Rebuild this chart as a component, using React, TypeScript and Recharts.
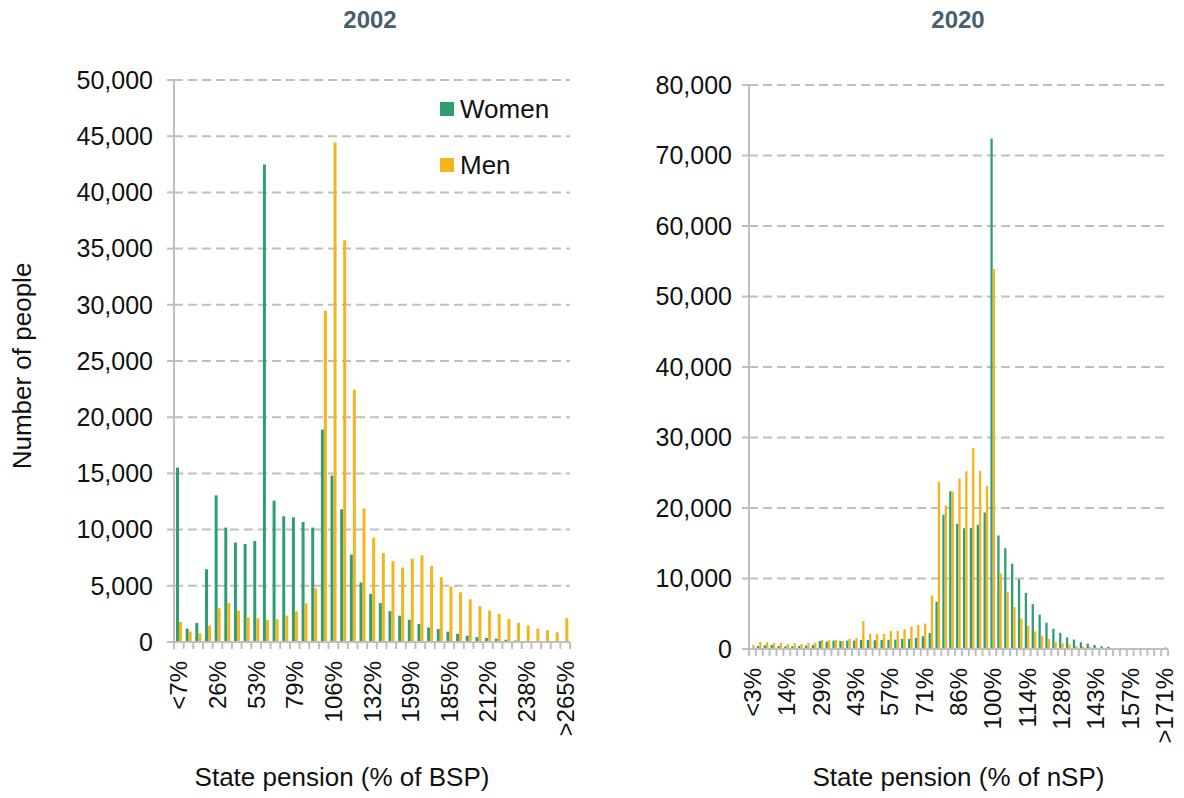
import React from "react";
import { BarChart, Bar, XAxis, YAxis, CartesianGrid, Legend } from "recharts";

// 2002: bands of 6.62% of the basic state pension
const bspBands = [
  "<7%", "7%", "13%", "20%", "26%", "33%", "40%", "46%", "53%", "60%",
  "66%", "73%", "79%", "86%", "93%", "99%", "106%", "113%", "119%", "126%",
  "132%", "139%", "146%", "152%", "159%", "165%", "172%", "179%", "185%", "192%",
  "199%", "205%", "212%", "218%", "225%", "232%", "238%", "245%", "252%", "258%",
  ">265%",
];
const women2002 = [
  15520, 1190, 1690, 6470, 13050, 10180, 8850, 8720, 8990, 42480,
  12580, 11190, 11100, 10680, 10180, 18900, 14810, 11810, 7780, 5290,
  4280, 3460, 2740, 2340, 1980, 1610, 1290, 1150, 920, 730,
  560, 430, 360, 300, 200, 130, 80, 50, 30, 20,
  10,
];
const men2002 = [
  1780, 925, 770, 1460, 3000, 3470, 2790, 2200, 2110, 1960,
  2020, 2350, 2730, 3440, 4780, 29470, 44440, 35740, 22450, 11870,
  9290, 7910, 7190, 6620, 7420, 7710, 6760, 5770, 4940, 4420,
  3790, 3200, 2800, 2500, 2040, 1710, 1480, 1190, 1050, 860,
  2110,
];
const ticks2002 = [0, 5000, 10000, 15000, 20000, 25000, 30000, 35000, 40000, 45000, 50000];

// 2020: bands of ~2.86% of the new state pension
const nspBands = [
  "<3%", "3%", "6%", "9%", "11%", "14%", "17%", "20%", "23%", "26%",
  "29%", "31%", "34%", "37%", "40%", "43%", "46%", "49%", "51%", "54%",
  "57%", "60%", "63%", "66%", "69%", "71%", "74%", "77%", "80%", "83%",
  "86%", "89%", "91%", "94%", "97%", "100%", "103%", "106%", "109%", "111%",
  "114%", "117%", "120%", "123%", "126%", "128%", "131%", "134%", "137%", "140%",
  "143%", "146%", "148%", "151%", "154%", "157%", "160%", "163%", "166%", "168%",
  ">171%",
];
const women2020 = [
  100, 430, 520, 570, 430, 380, 380, 430, 480, 570,
  1140, 1050, 1190, 1140, 1190, 1190, 1290, 1290, 1240, 1290,
  1290, 1330, 1430, 1430, 1570, 1810, 2280, 6700, 19030, 22370,
  17750, 17130, 17180, 17610, 19360, 72420, 16100, 14300, 12100, 9900,
  7940, 6360, 4880, 3730, 2870, 2300, 1630, 1340, 960, 770,
  570, 380, 330, 150, 100, 60, 40, 30, 20, 10,
  10,
];
const men2020 = [
  570, 1000, 950, 860, 860, 710, 810, 710, 860, 900,
  1290, 1240, 1290, 1140, 1430, 1570, 3950, 2140, 2140, 2140,
  2570, 2570, 2810, 3190, 3380, 3620, 7580, 23700, 20350, 22330,
  24170, 25200, 28520, 25250, 23130, 53890, 10720, 8080, 5930, 4310,
  3300, 2490, 1870, 1440, 1000, 810, 670, 430, 330, 290,
  190, 150, 100, 60, 40, 30, 20, 20, 10, 10,
  250,
];
const ticks2020 = [0, 10000, 20000, 30000, 40000, 50000, 60000, 70000, 80000];

const seriesOrder = ["Women", "Men"];

const GREEN = "#2f9e74";
const YELLOW = "#f4b41a";
const GRID = "#bfbfbf";
const TITLE = "#46606e";
const FONT = "'Liberation Sans', Arial, sans-serif";

const fmt = (v: number) => v.toLocaleString("en-GB");

// ticks sit on band edges like Excel; labels only every nth band
const BandTick = (props: any) => {
  const { x, y, payload, index, every, count, band } = props;
  const half = payload?.offset || band / 2;
  return (
    <g>
      <line x1={x - half} x2={x - half} y1={y} y2={y + 7} stroke={GRID} strokeWidth={2} />
      {index === count - 1 && (
        <line x1={x + half} x2={x + half} y1={y} y2={y + 7} stroke={GRID} strokeWidth={2} />
      )}
      {index % every === 0 && (
        <text
          x={x}
          y={y + 19}
          transform={`rotate(-90 ${x} ${y + 19})`}
          textAnchor="end"
          dominantBaseline="central"
          fontSize={24}
          fill="#111"
        >
          {payload.value}
        </text>
      )}
    </g>
  );
};

const LegendBox = (p: any) => {
  const items = [...(p.payload || [])].sort(
    (a: any, b: any) => seriesOrder.indexOf(a.value) - seriesOrder.indexOf(b.value)
  );
  return (
    <div>
      {items.map((e: any) => (
        <div key={e.value} style={{ display: "flex", alignItems: "center", height: 56, fontSize: 26, color: "#111" }}>
          <span style={{ width: 14, height: 14, background: e.color, marginRight: 6, display: "inline-block" }} />
          {e.value}
        </div>
      ))}
    </div>
  );
};

const Panel = ({
  cats, women, men, ticks, max, every, width, plotLeft, plotRight, top, xHeight, barSize, xTitle, titleShift, legend, yTitle, yMargin,
}: any) => {
  const rows = cats.map((c: string, i: number) => ({ cat: c, women: women[i], men: men[i] }));
  const band = (width - plotLeft - plotRight) / cats.length;
  return (
    <BarChart
      width={width}
      height={798}
      data={rows}
      margin={{ top, right: plotRight, bottom: 0, left: 0 }}
      barGap={0}
      barSize={barSize}
    >
      <CartesianGrid vertical={false} stroke={GRID} strokeDasharray="9 5" strokeWidth={2} />
      <XAxis
        dataKey="cat"
        interval={0}
        height={xHeight}
        tickSize={0}
        tickMargin={0}
        tickLine={false}
        axisLine={{ stroke: GRID, strokeWidth: 2 }}
        tick={(p: any) => <BandTick {...p} every={every} count={cats.length} band={band} />}
        label={{
          content: (lp: any) => {
            const vb = lp.viewBox || {};
            return (
              <text x={vb.x + vb.width / 2 + titleShift} y={vb.y + vb.height - 12} textAnchor="middle" fontSize={26} fill="#111">
                {xTitle}
              </text>
            );
          },
        }}
      />
      <YAxis
        width={plotLeft}
        domain={[0, max]}
        ticks={ticks}
        tickFormatter={fmt}
        tickSize={7}
        tickMargin={yMargin}
        tickLine={{ stroke: GRID, strokeWidth: 2 }}
        axisLine={{ stroke: GRID, strokeWidth: 2 }}
        tick={{ fontSize: 25, fill: "#111" }}
        label={
          yTitle
            ? { value: yTitle, angle: -90, position: "insideLeft", offset: 22, dy: 5, fontSize: 26, fill: "#111", style: { textAnchor: "middle" } }
            : undefined
        }
      />
      {legend && (
        <Legend
          layout="vertical"
          align="center"
          verticalAlign="middle"
          wrapperStyle={{ top: 81, left: 440, width: 160 }}
          content={LegendBox}
        />
      )}
      <Bar dataKey="women" name="Women" fill={GREEN} isAnimationActive={false} />
      <Bar dataKey="men" name="Men" fill={YELLOW} isAnimationActive={false} />
    </BarChart>
  );
};

export default function App() {
  return (
    <div style={{ position: "absolute", left: 0, top: 0, width: 1184, height: 798, background: "#fff", fontFamily: FONT }}>
      <div style={{ position: "absolute", left: 270, width: 200, top: 6, textAlign: "center", fontSize: 24, fontWeight: 700, color: TITLE }}>
        2002
      </div>
      <div style={{ position: "absolute", left: 858, width: 200, top: 6, textAlign: "center", fontSize: 24, fontWeight: 700, color: TITLE }}>
        2020
      </div>
      <div style={{ position: "absolute", left: 0, top: 0 }}>
        <Panel
          cats={bspBands}
          women={women2002}
          men={men2002}
          ticks={ticks2002}
          max={50000}
          every={4}
          width={600}
          plotLeft={174}
          plotRight={30}
          top={80}
          xHeight={156}
          barSize={3}
          xTitle="State pension (% of BSP)"
          titleShift={-30}
          legend
          yTitle="Number of people"
          yMargin={14}
        />
      </div>
      <div style={{ position: "absolute", left: 590, top: 0 }}>
        <Panel
          cats={nspBands}
          women={women2020}
          men={men2020}
          ticks={ticks2020}
          max={80000}
          every={5}
          width={594}
          plotLeft={159}
          plotRight={16}
          top={85}
          xHeight={149}
          barSize={2.3}
          xTitle="State pension (% of nSP)"
          titleShift={0}
          yMargin={10}
        />
      </div>
    </div>
  );
}
